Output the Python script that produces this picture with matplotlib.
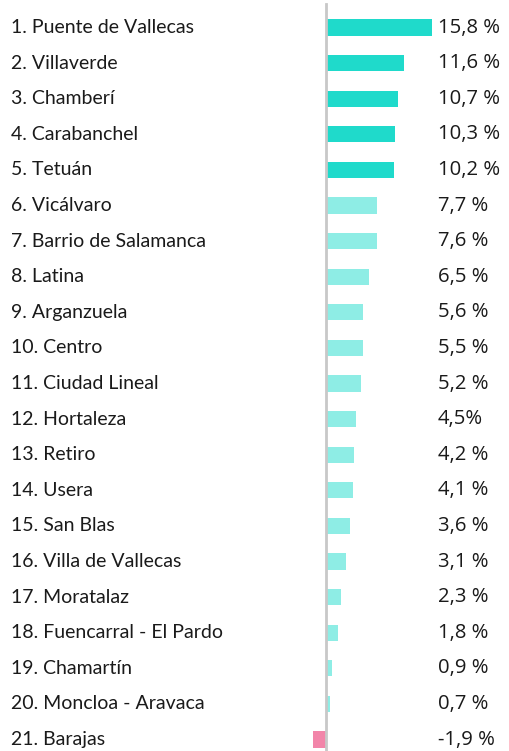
import matplotlib
matplotlib.use("Agg")
import matplotlib.pyplot as plt
from matplotlib.transforms import blended_transform_factory

districts = ["Puente de Vallecas", "Villaverde", "Chamberí", "Carabanchel", "Tetuán",
             "Vicálvaro", "Barrio de Salamanca", "Latina", "Arganzuela", "Centro",
             "Ciudad Lineal", "Hortaleza", "Retiro", "Usera", "San Blas",
             "Villa de Vallecas", "Moratalaz", "Fuencarral - El Pardo", "Chamartín",
             "Moncloa - Aravaca", "Barajas"]
values = [15.8, 11.6, 10.7, 10.3, 10.2, 7.7, 7.6, 6.5, 5.6, 5.5, 5.2, 4.5, 4.2, 4.1,
          3.6, 3.1, 2.3, 1.8, 0.9, 0.7, -1.9]
value_labels = ["15,8 %", "11,6 %", "10,7 %", "10,3 %", "10,2 %", "7,7 %", "7,6 %",
                "6,5 %", "5,6 %", "5,5 %", "5,2 %", "4,5%", "4,2 %", "4,1 %", "3,6 %",
                "3,1 %", "2,3 %", "1,8 %", "0,9 %", "0,7 %", "-1,9 %"]

W, H = 509, 751
fig = plt.figure(figsize=(W / 100, H / 100), dpi=100)
ax = fig.add_axes([0, 0, 1, 1])

px_per_unit = 6.75
x0 = 325.5
row0, row_step = 27.5, 35.6
ax.set_xlim(-x0 / px_per_unit, (W - x0) / px_per_unit)
ax.set_ylim((H - row0) / row_step, -row0 / row_step)
ax.axis("off")

colors = []
for i, v in enumerate(values):
    if v < 0:
        colors.append("#f285a9")
    elif i < 5:
        colors.append("#1fdacb")
    else:
        colors.append("#8eede5")

ys = list(range(len(values)))
ax.barh(ys, values, height=0.46, color=colors, zorder=2)
ax.axvline(0, ymin=0, ymax=1 - 4 / H, color="#c8c8c8", lw=2, zorder=3)

trans = blended_transform_factory(ax.transAxes, ax.transData)
for i, (d, lab) in enumerate(zip(districts, value_labels)):
    ax.text(11 / W, i, f"{i + 1}. {d}", transform=trans, ha="left", va="center",
            fontsize=14.0, family="Lato", color="#1a1a1a")
    ax.text(438 / W, i, lab, transform=trans, ha="left", va="center",
            fontsize=14.6, family="Open Sans", color="#1a1a1a")

fig.savefig("out.png", dpi=100)
